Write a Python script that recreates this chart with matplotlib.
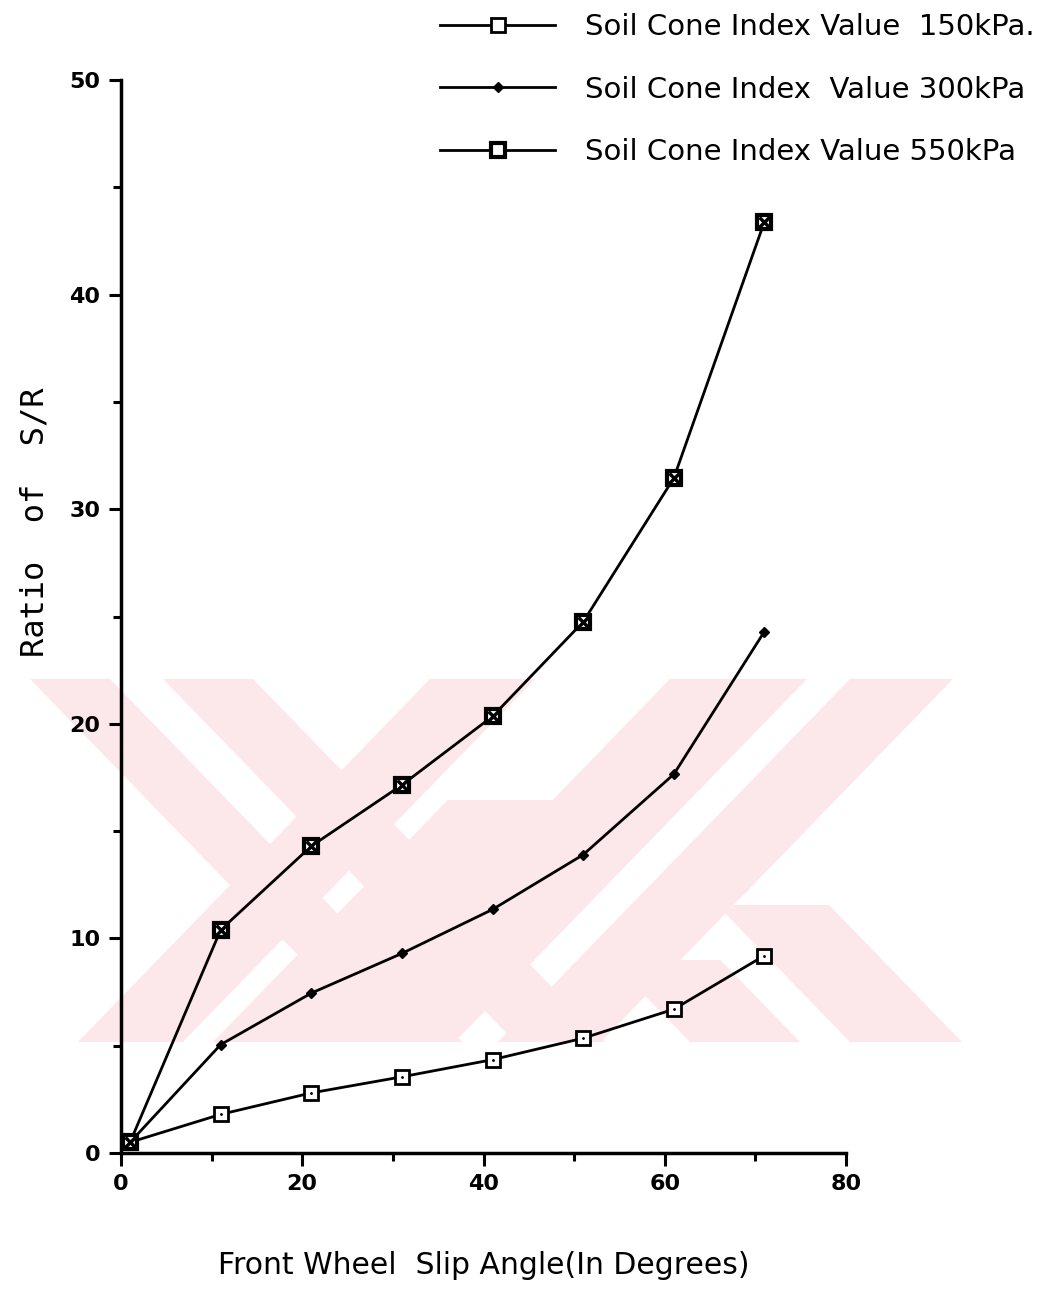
import matplotlib
matplotlib.use("Agg")
import matplotlib.pyplot as plt
from matplotlib.ticker import MultipleLocator
from matplotlib.patches import Polygon

# ---- data ----
slip_angle = [1, 11, 21, 31, 41, 51, 61, 71]
sr_150 = [0.5, 1.8, 2.8, 3.55, 4.35, 5.35, 6.7, 9.2]
sr_300 = [0.5, 5.05, 7.45, 9.3, 11.35, 13.9, 17.65, 24.3]
sr_550 = [0.5, 10.4, 14.3, 17.15, 20.35, 24.75, 31.45, 43.4]
labels = ["Soil Cone Index Value  150kPa.",
          "Soil Cone Index  Value 300kPa",
          "Soil Cone Index Value 550kPa"]
x_ticks = [0, 20, 40, 60, 80]
y_ticks = [0, 10, 20, 30, 40, 50]

W, H = 1044, 1289
fig = plt.figure(figsize=(W / 100, H / 100), dpi=100)

# ---- faint background watermark (decoration, figure pixel space) ----
bg = fig.add_axes([0, 0, 1, 1], zorder=0)
bg.set_xlim(0, W)
bg.set_ylim(H, 0)
bg.axis("off")
YT, YB, K = 679, 1042, 0.97
pink = "#fce8eb"


def stripe(x0, x1, direction, y0=YT, y1=YB, ref_y=YT):
    # x0..x1 is the horizontal extent at ref_y; direction +1 for "\" and -1 for "/"
    def xs(y):
        d = direction * K * (y - ref_y)
        return x0 + d, x1 + d
    a0, a1 = xs(y0)
    b0, b1 = xs(y1)
    return [(a0, y0), (a1, y0), (b1, y1), (b0, y1)]


shapes = [
    stripe(30, 110, +1),
    stripe(163, 253, +1),
    stripe(430, 535, -1),
    stripe(213, 320, -1, y0=800, ref_y=YB),
    stripe(670, 807, -1),
    stripe(850, 953, -1),
    stripe(850, 962, +1, y0=905, ref_y=YB),
    stripe(690, 800, +1, y0=960, ref_y=YB),
]
for poly in shapes:
    bg.add_patch(Polygon(poly, closed=True, facecolor=pink, edgecolor="none"))

# ---- main chart ----
ax = fig.add_axes([121 / W, 136 / H, 725 / W, 1073 / H], zorder=1)
ax.patch.set_alpha(0)

lw = 2.0
l1, = ax.plot(slip_angle, sr_150, color="black", lw=lw, marker="s", ms=10,
              mfc="white", mec="black", mew=2, zorder=3)
ax.plot(slip_angle, sr_150, ls="none", marker=".", ms=2, color="black", zorder=4)
l2, = ax.plot(slip_angle, sr_300, color="black", lw=lw, marker="D", ms=5,
              mfc="black", mec="black", zorder=3)
l3, = ax.plot(slip_angle, sr_550, color="black", lw=lw, marker="s", ms=10,
              mfc="white", mec="black", mew=3, zorder=3)
ax.plot(slip_angle, sr_550, ls="none", marker="x", ms=7, mew=2.5, color="black", zorder=4)

ax.set_xlim(0, 80)
ax.set_ylim(0, 50)
ax.spines["top"].set_visible(False)
ax.spines["right"].set_visible(False)
for s in ("left", "bottom"):
    ax.spines[s].set_linewidth(2.5)
ax.set_xticks(x_ticks)
ax.set_yticks(y_ticks)
ax.xaxis.set_minor_locator(MultipleLocator(10))
ax.yaxis.set_minor_locator(MultipleLocator(5))
ax.tick_params(which="major", length=9, width=2.2, direction="out", pad=6)
ax.tick_params(which="minor", length=6, width=2.2, direction="out")
for lab in ax.get_xticklabels() + ax.get_yticklabels():
    lab.set_fontsize(16)
    lab.set_fontweight("bold")

leg = fig.legend([l1, l2, l3], labels, loc="upper left",
                 bbox_to_anchor=(440 / W, 1 - 13 / H), bbox_transform=fig.transFigure,
                 frameon=False, fontsize=21, handlelength=3.95, handletextpad=1.03,
                 labelspacing=1.19, borderpad=0, borderaxespad=0)

fig.text(35 / W, 1 - 522 / H, "Ratio  of  S/R", rotation=90, ha="center", va="center",
         fontsize=23, family="DejaVu Sans Mono")
fig.text(484 / W, 1 - 1265 / H, "Front Wheel  Slip Angle(In Degrees)", ha="center",
         va="center", fontsize=21.5)

fig.savefig("out.png", dpi=100)
